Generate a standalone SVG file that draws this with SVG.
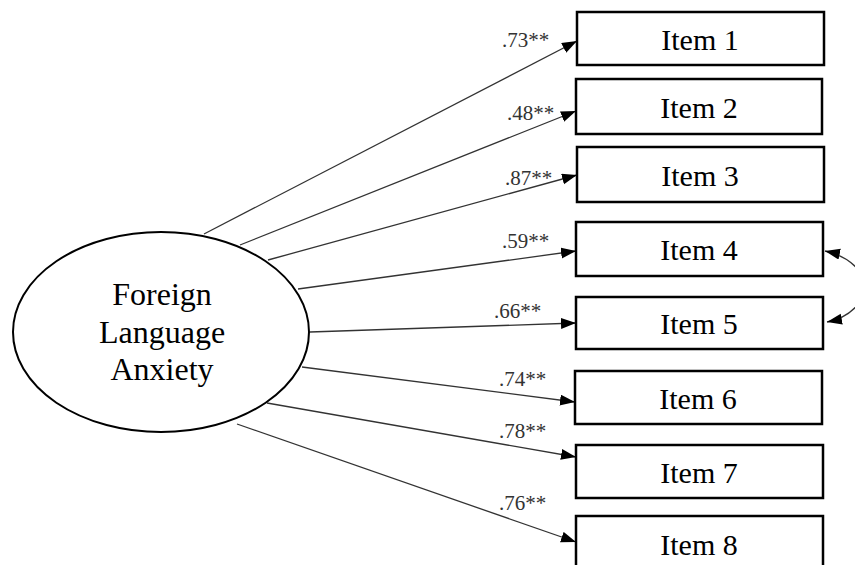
<svg xmlns="http://www.w3.org/2000/svg" width="855" height="565" viewBox="0 0 855 565">
<defs>
<marker id="arr" markerUnits="userSpaceOnUse" markerWidth="16" markerHeight="12" refX="15" refY="5.5" orient="auto">
<path d="M0,0 L15,5.5 L0,11 z" fill="#000"/>
</marker>
<style>
.box{fill:#fff;stroke:#000;stroke-width:2.5}
.lbl{font-family:"Liberation Serif","Times New Roman",serif;font-size:30px;fill:#000;text-anchor:middle}
.big{font-size:32px}
.coef{font-family:"Liberation Serif","Times New Roman",serif;font-size:21px;fill:#333}
.ln{stroke:#333;stroke-width:1.3;fill:none;marker-end:url(#arr)}
</style>
</defs>
<rect width="855" height="565" fill="#fff"/>
<g id="connectors">
<line class="ln" x1="204" y1="234" x2="577" y2="41"/>
<line class="ln" x1="240" y1="245" x2="576" y2="111"/>
<line class="ln" x1="268" y1="260" x2="577" y2="175"/>
<line class="ln" x1="298" y1="289" x2="576" y2="251"/>
<line class="ln" x1="310" y1="332" x2="576" y2="323"/>
<line class="ln" x1="302" y1="367" x2="575" y2="402"/>
<line class="ln" x1="267" y1="403" x2="576" y2="457"/>
<line class="ln" x1="237" y1="424" x2="576" y2="542"/>
<path class="ln" d="M860 272 Q 848 256 825 251"/>
<path class="ln" d="M860 302 Q 848 318 827 322"/>
<text class="coef" x="502" y="47">.73**</text>
<text class="coef" x="507" y="120">.48**</text>
<text class="coef" x="505" y="185">.87**</text>
<text class="coef" x="502" y="248">.59**</text>
<text class="coef" x="494" y="318">.66**</text>
<text class="coef" x="499" y="386">.74**</text>
<text class="coef" x="499" y="438">.78**</text>
<text class="coef" x="499" y="510">.76**</text>
</g>
<g id="fla">
<ellipse cx="161" cy="332" rx="148" ry="100" fill="#fff" stroke="#000" stroke-width="2"/>
<text class="lbl big" x="162" y="305">Foreign</text>
<text class="lbl big" x="162" y="343">Language</text>
<text class="lbl big" x="162" y="380">Anxiety</text>
</g>
<g id="item1"><rect class="box" x="577" y="12" width="247" height="53"/><text class="lbl" x="700" y="50">Item 1</text></g>
<g id="item2"><rect class="box" x="576" y="79" width="246" height="55"/><text class="lbl" x="699" y="118">Item 2</text></g>
<g id="item3"><rect class="box" x="577" y="147" width="247" height="55"/><text class="lbl" x="700" y="186">Item 3</text></g>
<g id="item4"><rect class="box" x="576" y="222" width="247" height="54"/><text class="lbl" x="699" y="260">Item 4</text></g>
<g id="item5"><rect class="box" x="576" y="297" width="247" height="52"/><text class="lbl" x="699" y="334">Item 5</text></g>
<g id="item6"><rect class="box" x="575" y="371" width="247" height="53"/><text class="lbl" x="698" y="409">Item 6</text></g>
<g id="item7"><rect class="box" x="576" y="445" width="247" height="53"/><text class="lbl" x="699" y="483">Item 7</text></g>
<g id="item8"><rect class="box" x="576" y="516" width="247" height="60"/><text class="lbl" x="699" y="555">Item 8</text></g>
</svg>
